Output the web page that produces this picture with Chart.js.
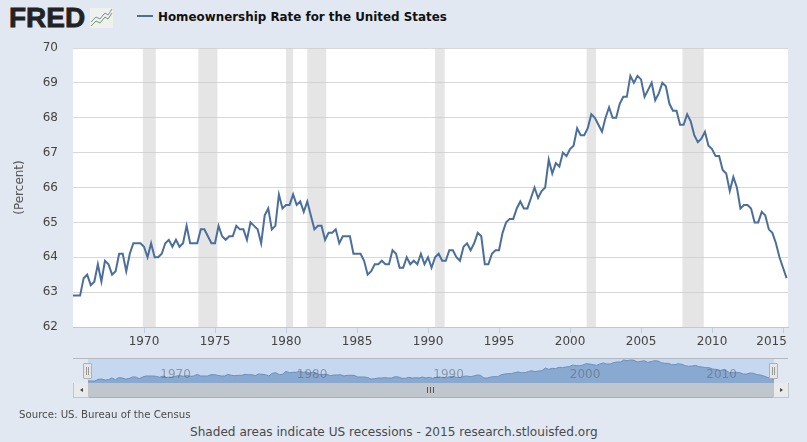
<!DOCTYPE html>
<html>
<head>
<meta charset="utf-8">
<script src="https://cdn.jsdelivr.net/npm/chart.js@4"></script>
<style>
  html, body { margin: 0; padding: 0; }
  body { width: 807px; height: 442px; background: #e1e8f2; overflow: hidden; position: relative;
         font-family: "DejaVu Sans", sans-serif; color: #4a4a4a; }
  .abs { position: absolute; }
  canvas { position: absolute; }
  #logo { left: 9px; top: 0px; font: bold 28px/36px "Liberation Sans", sans-serif; color: #222; letter-spacing: 0; -webkit-text-stroke: 0.8px #222; }
  #legendLine { left: 137px; top: 15px; width: 16px; height: 2px; background: #4a6f9c; }
  #title { left: 158px; top: 9px; font-size: 11.9px; line-height: 16px; font-weight: bold; color: #111; white-space: nowrap; }
  #source { left: 19px; top: 408px; font-size: 10.2px; line-height: 14px; white-space: nowrap; }
  #note { left: 190px; top: 425px; font-size: 12.1px; line-height: 15px; white-space: nowrap; }
  #navTop { left: 73px; top: 358px; width: 715px; height: 1px; background: #b4b9c0; }
  #navBack { left: 88px; top: 359px; width: 686px; height: 24px; background: #c5d8ef; }
  #scrollTrack { left: 87px; top: 383px; width: 686px; height: 14px; background: #bfc6cd; border-bottom: 1px solid #aab0b6; }
  .btn { top: 383px; width: 14px; height: 14px; background: #e8eaec; border: 1px solid #c2c5c9; border-top: 0; box-sizing: content-box; text-align: center; }
  #btnL { left: 73px; }
  #btnR { left: 773px; }
  .arrowL { position: absolute; left: 6px; top: 5px; border: 2.5px solid transparent; border-right: 3px solid #444; border-left: 0; }
  .arrowR { position: absolute; left: 6px; top: 5px; border: 2.5px solid transparent; border-left: 3px solid #444; border-right: 0; }
  .handle { top: 363px; width: 7px; height: 14px; background: #e6e6e6; border: 1px solid #b0b0b0; border-radius: 1px; }
  .handle::after { content: ""; position: absolute; left: 2px; top: 3px; width: 1px; height: 8px; border-left: 1px solid #999; border-right: 1px solid #999; }
  #handleL { left: 83px; }
  #handleR { left: 769px; }
  #grip { left: 427px; top: 387px; width: 7px; height: 6px;
          background: repeating-linear-gradient(90deg, #555 0 1px, transparent 1px 3px); }
</style>
</head>
<body>

<div id="logo" class="abs">FRED</div>
<svg class="abs" style="left:90px;top:7px" width="24" height="22">
  <rect x="0" y="1" width="23" height="20" fill="#eef1ee"/>
  <polyline points="1,19 6,14 10,16 15,10 18,12 22,6" fill="none" stroke="#6f9a5e" stroke-width="1"/>
  <polyline points="1,15 6,10 10,12 15,6 18,8 22,2" fill="none" stroke="#7d8fa5" stroke-width="1"/>
</svg>
<div id="legendLine" class="abs"></div>
<div id="title" class="abs">Homeownership Rate for the United States</div>

<canvas id="mainChart" width="807" height="354" style="left:0;top:0"></canvas>

<div id="navTop" class="abs"></div>
<div id="navBack" class="abs"></div>
<canvas id="navChart" width="686" height="24" style="left:88px;top:359px"></canvas>
<div id="scrollTrack" class="abs"></div>
<div id="btnL" class="abs btn"><span class="arrowL"></span></div>
<div id="btnR" class="abs btn"><span class="arrowR"></span></div>
<div id="handleL" class="abs handle"></div>
<div id="handleR" class="abs handle"></div>
<div id="grip" class="abs"></div>

<div id="source" class="abs">Source: US. Bureau of the Census</div>
<div id="note" class="abs">Shaded areas indicate US recessions - 2015 research.stlouisfed.org</div>

<script>
Chart.defaults.font.family = '"DejaVu Sans", sans-serif';
Chart.defaults.font.size = 12;
Chart.defaults.color = "#4a4a4a";

// Quarterly rate (percent), first value is 1965 Q1
const homeownership = [
  62.9, 62.9, 62.9, 63.4,  // 1965
  63.5, 63.2, 63.3, 63.8,
  63.3, 63.9, 63.8, 63.5,
  63.6, 64.1, 64.1, 63.6,
  64.1, 64.4, 64.4, 64.4,
  64.3, 64.0, 64.4, 64.0,  // 1970
  64.0, 64.1, 64.4, 64.5,
  64.3, 64.5, 64.3, 64.4,
  64.9, 64.4, 64.4, 64.4,
  64.8, 64.8, 64.6, 64.4,
  64.4, 64.9, 64.6, 64.5,  // 1975
  64.6, 64.6, 64.9, 64.8,
  64.8, 64.5, 65.0, 64.9,
  64.8, 64.4, 65.2, 65.4,
  64.8, 64.9, 65.8, 65.4,
  65.5, 65.5, 65.8, 65.5,  // 1980
  65.6, 65.3, 65.6, 65.2,
  64.8, 64.9, 64.9, 64.5,
  64.7, 64.7, 64.8, 64.4,
  64.6, 64.6, 64.6, 64.1,
  64.1, 64.1, 63.9, 63.5,  // 1985
  63.6, 63.8, 63.8, 63.9,
  63.8, 63.8, 64.2, 64.1,
  63.7, 63.7, 64.0, 63.8,
  63.9, 63.8, 64.1, 63.8,
  64.0, 63.7, 64.0, 64.1,  // 1990
  63.9, 63.9, 64.2, 64.2,
  64.0, 63.9, 64.3, 64.4,
  64.2, 64.4, 64.7, 64.6,
  63.8, 63.8, 64.1, 64.2,
  64.2, 64.7, 65.0, 65.1,  // 1995
  65.1, 65.4, 65.6, 65.4,
  65.4, 65.7, 66.0, 65.7,
  65.9, 66.0, 66.8, 66.4,
  66.7, 66.6, 67.0, 66.9,
  67.1, 67.2, 67.7, 67.5,  // 2000
  67.5, 67.7, 68.1, 68.0,
  67.8, 67.6, 68.0, 68.3,
  68.0, 68.0, 68.4, 68.6,
  68.6, 69.2, 69.0, 69.2,
  69.1, 68.6, 68.8, 69.0,  // 2005
  68.5, 68.7, 69.0, 68.9,
  68.4, 68.2, 68.2, 67.8,
  67.8, 68.1, 67.9, 67.5,
  67.3, 67.4, 67.6, 67.2,
  67.1, 66.9, 66.9, 66.5,  // 2010
  66.4, 65.9, 66.3, 66.0,
  65.4, 65.5, 65.5, 65.4,
  65.0, 65.0, 65.3, 65.2,
  64.8, 64.7, 64.4, 64.0,
  63.7, 63.4               // 2015
];
const firstYear = 1965;
const lastAxisYear = 2015.35;
const yearTicks = [1970, 1975, 1980, 1985, 1990, 1995, 2000, 2005, 2010, 2015];
const navYearTicks = [1970, 1980, 1990, 2000, 2010];
const recessionStarts = [1969.92, 1973.83, 1980.0, 1981.5, 1990.5, 2001.17, 2007.92];
const recessionEnds = [1970.83, 1975.17, 1980.5, 1982.83, 1991.17, 2001.83, 2009.42];

const points = homeownership.map((v, i) => ({ x: firstYear + i / 4, y: v }));

// white plot background and the grey recession bands
const plotBack = {
  id: "plotBack",
  beforeDraw(chart) {
    const a = chart.chartArea;
    chart.ctx.fillStyle = "#fff";
    chart.ctx.fillRect(a.left, a.top, a.right - a.left, a.bottom - a.top);
  },
  beforeDatasetsDraw(chart) {
    const a = chart.chartArea, x = chart.scales.x;
    chart.ctx.fillStyle = "rgba(204,204,204,0.5)";
    recessionStarts.forEach((s, i) => {
      const x0 = x.getPixelForValue(s), x1 = x.getPixelForValue(recessionEnds[i]);
      chart.ctx.fillRect(x0, a.top, x1 - x0, a.bottom - a.top);
    });
  }
};

new Chart(document.getElementById("mainChart"), {
  type: "line",
  data: {
    datasets: [{
      label: "Homeownership Rate for the United States",
      data: points,
      borderColor: "#4a6f9c",
      borderWidth: 2,
      pointRadius: 0,
      tension: 0,
      clip: false
    }]
  },
  plugins: [plotBack],
  options: {
    responsive: false,
    animation: false,
    layout: { padding: { top: 48, right: 19, left: 0, bottom: 0 } },
    plugins: { legend: { display: false }, tooltip: { enabled: false } },
    scales: {
      x: {
        type: "linear",
        min: firstYear,
        max: lastAxisYear,
        afterBuildTicks: s => { s.ticks = yearTicks.map(v => ({ value: v })); },
        afterFit: s => { s.height = 27; s.paddingLeft = 0; s.paddingRight = 0; },
        grid: { drawOnChartArea: false, color: "#c3cfdd", tickLength: 6 },
        border: { color: "#c4c8cc" },
        ticks: {
          autoSkip: false,
          maxRotation: 0,
          minRotation: 0,
          padding: 2,
          color: "#444",
          // the last label is pushed left to stay inside the plot width
          callback: v => (v === 2015 ? "2015      " : String(v))
        }
      },
      y: {
        min: 62,
        max: 70,
        afterFit: s => { s.width = 73; s.paddingTop = 0; s.paddingBottom = 0; },
        grid: { color: "#d8d8d8", drawTicks: false },
        border: { display: false },
        title: { display: true, text: "(Percent)", color: "#555", font: { size: 12 }, padding: { top: 13, bottom: 0 } },
        ticks: { stepSize: 1, padding: 15, color: "#444" }
      }
    }
  }
});

// year labels inside the navigator, left aligned next to their year
const navLabels = {
  id: "navLabels",
  afterDraw(chart) {
    const x = chart.scales.x, ctx = chart.ctx;
    ctx.save();
    ctx.font = '12px "DejaVu Sans", sans-serif';
    ctx.fillStyle = "rgba(90,100,115,0.55)";
    ctx.textAlign = "left";
    ctx.textBaseline = "middle";
    navYearTicks.forEach(v => ctx.fillText(String(v), x.getPixelForValue(v) + 4, 16));
    ctx.restore();
  }
};

new Chart(document.getElementById("navChart"), {
  type: "line",
  data: {
    datasets: [{
      data: points,
      borderColor: "#6b8fbd",
      borderWidth: 1,
      backgroundColor: "#8aa9d1",
      fill: "start",
      pointRadius: 0,
      tension: 0
    }]
  },
  plugins: [navLabels],
  options: {
    responsive: false,
    animation: false,
    plugins: { legend: { display: false }, tooltip: { enabled: false } },
    scales: {
      x: { type: "linear", display: false, min: firstYear, max: 2015.25 },
      y: { display: false, min: 62.3, max: 69.5 }
    }
  }
});
</script>
</body>
</html>
